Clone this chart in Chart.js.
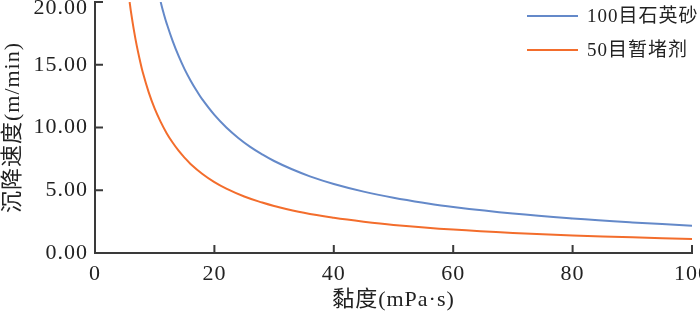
<!DOCTYPE html>
<html>
<head>
<meta charset="utf-8">
<script src="https://cdn.jsdelivr.net/npm/chart.js@4"></script>
<style>
  html, body { margin: 0; padding: 0; background: #fff; }
  #wrap { width: 700px; height: 319px; }
</style>
</head>
<body>
<div id="wrap"><canvas id="chart"></canvas></div>
<script>
// viscosity (x) and settling velocity (y)
const quartzX = [11, 11.5, 12, 13, 14, 15, 16, 17, 18, 20, 22, 24, 26, 28, 30, 33, 36, 40, 45, 50, 55, 60, 70, 80, 90, 100];
const quartzY = [20, 19.1, 18.3, 16.9, 15.7, 14.65, 13.75, 12.95, 12.22, 11.0, 10.0, 9.17, 8.46, 7.86, 7.33, 6.67, 6.11, 5.5, 4.89, 4.4, 4.0, 3.66, 3.14, 2.75, 2.44, 2.18];
const pluggingX = [5.8, 6, 6.5, 7, 7.5, 8, 9, 10, 11, 12, 13, 14, 15, 16, 18, 20, 22, 25, 28, 30, 35, 40, 45, 50, 60, 70, 80, 90, 100];
const pluggingY = [20, 19.3, 17.8, 16.5, 15.4, 14.4, 12.8, 11.5, 10.45, 9.55, 8.8, 8.15, 7.6, 7.1, 6.3, 5.65, 5.13, 4.5, 4.02, 3.75, 3.2, 2.8, 2.49, 2.24, 1.87, 1.6, 1.4, 1.25, 1.12];
const seriesNames = ["100目石英砂", "50目暂堵剂"];
const xTicks = [0, 20, 40, 60, 80, 100];
const yTicks = [0, 5, 10, 15, 20];

const FONT = "'Liberation Serif', 'Noto Sans CJK SC', serif";
const AXIS = "#3a3a3a";

const toPoints = (xs, ys) => xs.map((x, i) => ({ x: x, y: ys[i] }));

// inward tick marks, legend inside the plot, top y label kept on canvas
const extras = {
  id: "extras",
  beforeDraw(chart) {
    chart.ctx.letterSpacing = "1px";
  },
  afterDraw(chart) {
    const ctx = chart.ctx;
    const xs = chart.scales.x, ys = chart.scales.y;
    const area = chart.chartArea;
    ctx.save();
    ctx.strokeStyle = AXIS;
    ctx.lineWidth = 2;
    ctx.beginPath();
    xTicks.forEach(v => {
      if (v === 0) return;
      const px = xs.getPixelForValue(v);
      ctx.moveTo(px, area.bottom);
      ctx.lineTo(px, area.bottom - 8);
    });
    yTicks.forEach(v => {
      if (v === 0) return;
      const py = ys.getPixelForValue(v);
      ctx.moveTo(area.left, py);
      ctx.lineTo(area.left + 8, py);
    });
    ctx.stroke();

    // top label, pushed down so it is not cut off
    ctx.font = "22px " + FONT;
    ctx.fillStyle = "#222";
    ctx.textAlign = "right";
    ctx.textBaseline = "middle";
    ctx.fillText(yTicks[yTicks.length - 1].toFixed(2), area.left - 7, 8);

    // legend
    ctx.font = "19px " + FONT;
    ctx.textAlign = "left";
    chart.data.datasets.forEach((ds, i) => {
      const y = 16 + i * 34;
      ctx.strokeStyle = ds.borderColor;
      ctx.lineWidth = 2;
      ctx.beginPath();
      ctx.moveTo(area.right - 165, y);
      ctx.lineTo(area.right - 114, y);
      ctx.stroke();
      ctx.fillStyle = "#222";
      ctx.fillText(ds.label, area.right - 105, y + 1);
    });
    ctx.restore();
  }
};

new Chart(document.getElementById("chart"), {
  type: "line",
  data: {
    datasets: [
      {
        label: seriesNames[0],
        data: toPoints(quartzX, quartzY),
        borderColor: "#6489c9",
        borderWidth: 2,
        pointRadius: 0,
        tension: 0.4,
        fill: false
      },
      {
        label: seriesNames[1],
        data: toPoints(pluggingX, pluggingY),
        borderColor: "#f36d2c",
        borderWidth: 2,
        pointRadius: 0,
        tension: 0.4,
        fill: false
      }
    ]
  },
  options: {
    responsive: true,
    maintainAspectRatio: false,
    animation: false,
    layout: { padding: { top: 2, right: 8, left: 0, bottom: 0 } },
    plugins: {
      legend: { display: false },
      tooltip: { enabled: false }
    },
    scales: {
      x: {
        type: "linear",
        min: 0,
        max: 100,
        afterBuildTicks: s => { s.ticks = xTicks.map(v => ({ value: v })); },
        afterFit: s => {
          s.height = 66;
          s.paddingLeft = 0; s.paddingRight = 0;
        },
        grid: { display: false, drawTicks: false },
        border: { display: true, color: AXIS, width: 2 },
        ticks: {
          color: "#222",
          padding: 8,
          maxRotation: 0,
          font: { family: FONT, size: 22 }
        },
        title: {
          display: true,
          text: "黏度(mPa·s)",
          color: "#222",
          font: { family: FONT, size: 22 },
          padding: { top: 0, bottom: 6 }
        }
      },
      y: {
        min: 0,
        max: 20,
        afterBuildTicks: s => { s.ticks = yTicks.map(v => ({ value: v })); },
        afterFit: s => {
          s.width = 95;
          s.paddingTop = 0; s.paddingBottom = 0;
        },
        grid: { display: false, drawTicks: false },
        border: { display: true, color: AXIS, width: 2 },
        ticks: {
          color: "#222",
          padding: 7,
          font: { family: FONT, size: 22 },
          callback: v => (v === yTicks[yTicks.length - 1] ? "" : v.toFixed(2))
        },
        title: {
          display: true,
          text: "沉降速度(m/min)",
          color: "#222",
          font: { family: FONT, size: 22 },
          padding: { top: 0, bottom: 0 }
        }
      }
    }
  },
  plugins: [extras]
});
</script>
</body>
</html>
